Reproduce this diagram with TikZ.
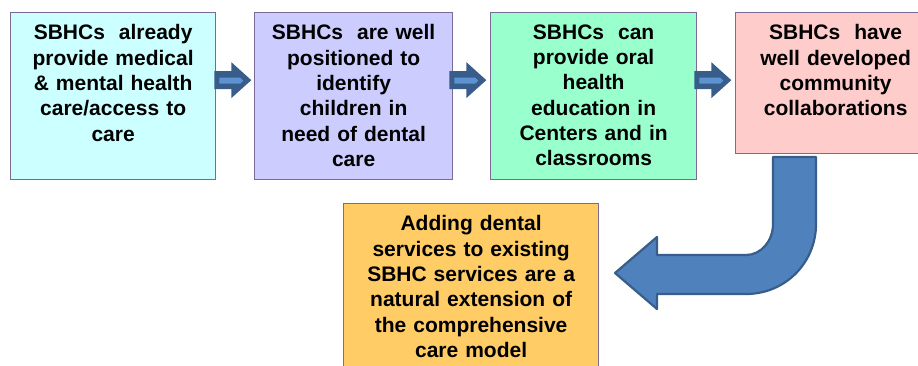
\documentclass[tikz,border=0pt]{standalone}
\usepackage{fontspec}
\setmainfont{Liberation Sans}
\usetikzlibrary{calc}

\definecolor{boxline}{HTML}{7A6A96}
\definecolor{fillA}{HTML}{CCFFFF}
\definecolor{fillB}{HTML}{CCCCFF}
\definecolor{fillC}{HTML}{99FFCC}
\definecolor{fillD}{HTML}{FFCCCC}
\definecolor{fillE}{HTML}{FFCC66}
\definecolor{arrowbody}{HTML}{4F81BD}
\definecolor{arrowedge}{HTML}{385D8A}
\definecolor{arrowlight}{HTML}{5E93D3}

\tikzset{
  stepbox/.style={draw=boxline, line width=1.3pt, rectangle, inner sep=0pt, anchor=north west},
  steptext/.style={anchor=north, align=center, inner sep=0pt,
    font=\fontsize{21}{25.3}\selectfont\bfseries},
  arrowshape/.style={fill=arrowbody, draw=arrowedge, line width=2.2pt, line join=round},
  pics/flowarrow/.style={code={
    \fill[arrowedge] (0,-9) -- (17,-9) -- (17,-18) -- (37,0) -- (17,18) -- (17,9) -- (0,9) -- cycle;
    \fill[arrowlight] (5,-2.5) -- (26,-2.5) -- (29,0.5) -- (26,3.5) -- (5,3.5) -- cycle;
  }}
}

\begin{document}
\begin{tikzpicture}[x=1pt,y=-1pt]
  \useasboundingbox (0,0) rectangle (918,366);
  \clip (0,0) rectangle (918,366);

  % the four boxes of the top row
  \node[stepbox, fill=fillA, minimum width=205pt, minimum height=167pt] (b1) at (10,12) {};
  \node[stepbox, fill=fillB, minimum width=198pt, minimum height=167pt] (b2) at (254,12) {};
  \node[stepbox, fill=fillC, minimum width=206pt, minimum height=167pt] (b3) at (490,12) {};
  \node[stepbox, fill=fillD, minimum width=200pt, minimum height=141pt] (b4) at (735,12) {};
  % the box of the conclusion
  \node[stepbox, fill=fillE, minimum width=255pt, minimum height=190pt] (b5) at (343,203) {};

  \node[steptext, text width=200pt] (t1) at ($(b1.north)+(0,12.5)$)
    {SBHCs\ \ already\\provide medical\\\& mental health\\care/access to\\care};
  \node[steptext, text width=196pt] (t2) at ($(b2.north)+(0,12.5)$)
    {SBHCs\ \ are well\\positioned to\\identify\\children in\\need of dental\\care};
  \node[steptext, text width=200pt] (t3) at ($(b3.north)+(0,12.5)$)
    {SBHCs\ \ can\\provide oral\\health\\education in\\Centers and in\\classrooms};
  \node[steptext, text width=196pt] (t4) at ($(b4.north)+(0,12.5)$)
    {SBHCs\ \ have\\well developed\\community\\collaborations};
  \node[steptext, text width=250pt] (t5) at ($(b5.north)+(0,12.5)$)
    {Adding dental\\services to existing\\SBHC services are a\\natural extension of\\the comprehensive\\care model};

  % block arrows between the boxes
  \pic at ($(b1.east)+(-2,-16)$) {flowarrow};
  \pic at ($(b2.east)+(-4,-16)$) {flowarrow};
  \pic at ($(b3.east)+(-3,-16)$) {flowarrow};

  % bent arrow from the last box down to the conclusion
  \draw[arrowshape]
    (773,157) -- (816,157) -- (816,224)
    .. controls (816,263) and (785,294) .. (746,294)
    -- (657,294) -- (657,309) -- (615,273) -- (657,237) -- (657,255) -- (746,255)
    .. controls (761,255) and (773,241) .. (773,224) -- cycle;
\end{tikzpicture}
\end{document}
